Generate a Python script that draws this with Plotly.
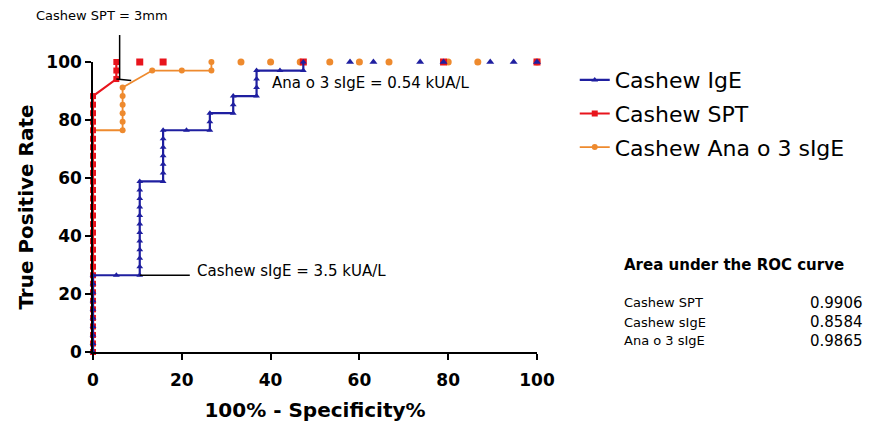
import plotly.graph_objects as go

# ---------------- data ----------------
series_names = ["Cashew IgE", "Cashew SPT", "Cashew Ana o 3 sIgE"]

ige_fpr = [0, 0, 0, 0, 0, 0, 0, 0, 0, 0,
           5.26, 10.53,
           10.53, 10.53, 10.53, 10.53, 10.53, 10.53, 10.53, 10.53, 10.53, 10.53, 10.53,
           15.79, 15.79, 15.79, 15.79, 15.79, 15.79, 15.79,
           21.05, 26.32, 26.32, 26.32,
           31.58, 31.58, 31.58,
           36.84, 36.84, 36.84, 36.84,
           42.11, 47.37, 47.37,
           57.89, 63.16, 73.68, 78.95, 89.47, 94.74, 100]
ige_tpr = [0, 2.94, 5.88, 8.82, 11.76, 14.71, 17.65, 20.59, 23.53, 26.47,
           26.47, 26.47,
           29.41, 32.35, 35.29, 38.24, 41.18, 44.12, 47.06, 50.0, 52.94, 55.88, 58.82,
           58.82, 61.76, 64.71, 67.65, 70.59, 73.53, 76.47,
           76.47, 76.47, 79.41, 82.35,
           82.35, 85.29, 88.24,
           88.24, 91.18, 94.12, 97.06,
           97.06, 97.06, 100,
           100, 100, 100, 100, 100, 100, 100]

spt_fpr = [0, 0, 0, 0, 0, 0, 0, 0, 0, 0,
           0, 0, 0, 0, 0, 0, 0, 0, 0, 0,
           0, 0, 0, 0, 0, 0, 0, 0, 0, 0, 0,
           5.26, 5.26, 5.26, 10.53, 15.79, 47.37, 78.95, 100]
spt_tpr = [0, 2.94, 5.88, 8.82, 11.76, 14.71, 17.65, 20.59, 23.53, 26.47,
           29.41, 32.35, 35.29, 38.24, 41.18, 44.12, 47.06, 50.0, 52.94, 55.88,
           58.82, 61.76, 64.71, 67.65, 70.59, 73.53, 76.47, 79.41, 82.35, 85.29, 88.24,
           94.12, 97.06, 100, 100, 100, 100, 100, 100]

ana_fpr = [0, 0, 0, 0, 0, 0, 0, 0, 0, 0,
           0, 0, 0, 0, 0, 0, 0, 0, 0, 0,
           0, 0, 0, 0, 0, 0, 0,
           6.67, 6.67, 6.67, 6.67, 6.67, 6.67,
           13.33, 20.0, 26.67, 26.67,
           33.33, 40.0, 46.67, 53.33, 60.0, 66.67, 80.0, 86.67, 100]
ana_tpr = [0, 2.94, 5.88, 8.82, 11.76, 14.71, 17.65, 20.59, 23.53, 26.47,
           29.41, 32.35, 35.29, 38.24, 41.18, 44.12, 47.06, 50.0, 52.94, 55.88,
           58.82, 61.76, 64.71, 67.65, 70.59, 73.53, 76.47,
           76.47, 79.41, 82.35, 85.29, 88.24, 91.18,
           97.06, 97.06, 97.06, 100,
           100, 100, 100, 100, 100, 100, 100, 100, 100]

tick_vals = [0, 20, 40, 60, 80, 100]

auc_title = "Area under the ROC curve"
auc_labels = ["Cashew SPT", "Cashew sIgE", "Ana o 3 sIgE"]
auc_values = ["0.9906", "0.8584", "0.9865"]

cut_labels = ["Cashew SPT = 3mm", "Ana o 3 sIgE = 0.54 kUA/L", "Cashew sIgE = 3.5 kUA/L"]

# ---------------- styling ----------------
BLUE = "#1F1FA0"
RED = "#E8141C"
ORANGE = "#EE8A2E"
FONT = "DejaVu Sans, Verdana, sans-serif"

fig = go.Figure()


def split_at_top(xs, ys):
    k = ys.index(100)
    return xs[:k + 1], ys[:k + 1], xs[k + 1:], ys[k + 1:]


specs = [
    (ana_fpr, ana_tpr, series_names[2], ORANGE, "circle", 6, 1.8, 3),
    (spt_fpr, spt_tpr, series_names[1], RED, "square", 6, 2.2, 2),
    (ige_fpr, ige_tpr, series_names[0], BLUE, "triangle-up", 6, 2.2, 1),
]
for xs, ys, name, col, sym, msz, lw, rank in specs:
    lx, ly, mx, my = split_at_top(xs, ys)
    fig.add_trace(go.Scatter(
        x=lx, y=ly, mode="lines+markers", name=name, legendrank=rank,
        legendgroup=name,
        line=dict(color=col, width=lw),
        marker=dict(color=col, symbol=sym, size=msz),
        cliponaxis=False,
    ))
    fig.add_trace(go.Scatter(
        x=mx, y=my, mode="markers", showlegend=False, legendgroup=name,
        marker=dict(color=col, symbol=sym, size=msz + 1),
        cliponaxis=False,
    ))

# cut-off pointer lines
fig.add_shape(type="line", xref="x", yref="paper", x0=6.0, x1=6.0, y0=0.938, y1=1.093,
              line=dict(color="black", width=1.5))
fig.add_shape(type="line", xref="x", yref="y", x0=5.26, x1=8.6, y0=94.12, y1=93.6,
              line=dict(color="black", width=1.5))
fig.add_shape(type="line", xref="x", yref="y", x0=10.53, x1=21.8, y0=26.47, y1=26.47,
              line=dict(color="black", width=1.5))

fig.add_annotation(text=cut_labels[0], xref="paper", yref="paper", x=0.02, y=1.162,
                   xanchor="center", yanchor="middle", showarrow=False,
                   font=dict(family=FONT, size=13, color="black"))
fig.add_annotation(text=cut_labels[1], xref="paper", yref="paper", x=0.399, y=0.928,
                   xanchor="left", yanchor="middle", showarrow=False,
                   font=dict(family=FONT, size=15, color="black"))
fig.add_annotation(text=cut_labels[2], xref="paper", yref="paper", x=0.23, y=0.279,
                   xanchor="left", yanchor="middle", showarrow=False,
                   font=dict(family=FONT, size=15, color="black"))

# AUC table
fig.add_annotation(text="<b>" + auc_title + "</b>", xref="paper", yref="paper",
                   x=1.191, y=0.300, xanchor="left", yanchor="middle", showarrow=False,
                   font=dict(family=FONT, size=15, color="black"))
row_y = [0.169, 0.103, 0.038]
tab_font = dict(family=FONT, size=13, color="black")
for lab, val, yy in zip(auc_labels, auc_values, row_y):
    fig.add_annotation(text=lab, xref="paper", yref="paper", x=1.191, y=yy,
                       xanchor="left", yanchor="middle", showarrow=False, font=tab_font)
    fig.add_annotation(text=val, xref="paper", yref="paper", x=1.61, y=yy,
                       xanchor="left", yanchor="middle", showarrow=False,
                       font=dict(family=FONT, size=15, color="black"))

axis_common = dict(
    range=[0, 100], tickvals=tick_vals, ticks="outside", ticklen=6, tickwidth=1.5,
    tickcolor="black", showline=True, linecolor="black", linewidth=1.5,
    showgrid=False, zeroline=False, automargin=False,
    tickfont=dict(family=FONT, size=17, color="black", weight="bold"),
)
fig.update_xaxes(**axis_common, ticklabelstandoff=6,
                 title=dict(text="<b>100% - Specificity%</b>", standoff=14,
                            font=dict(family=FONT, size=20, color="black")))
fig.update_yaxes(**axis_common,
                 title=dict(text="<b>True Positive Rate</b>", standoff=7,
                            font=dict(family=FONT, size=20, color="black")))

# the page body adds an 8 px offset, so the figure is 8 px smaller on each axis
fig.update_layout(
    width=865, height=424,
    margin=dict(l=85, r=336, t=54, b=80, autoexpand=False),
    paper_bgcolor="white", plot_bgcolor="white",
    showlegend=True,
    legend=dict(x=1.085, y=1.01, xanchor="left", yanchor="top",
                font=dict(family=FONT, size=22, color="black"),
                bgcolor="rgba(0,0,0,0)", itemwidth=30, tracegroupgap=2),
)

fig.write_html("out.html")
